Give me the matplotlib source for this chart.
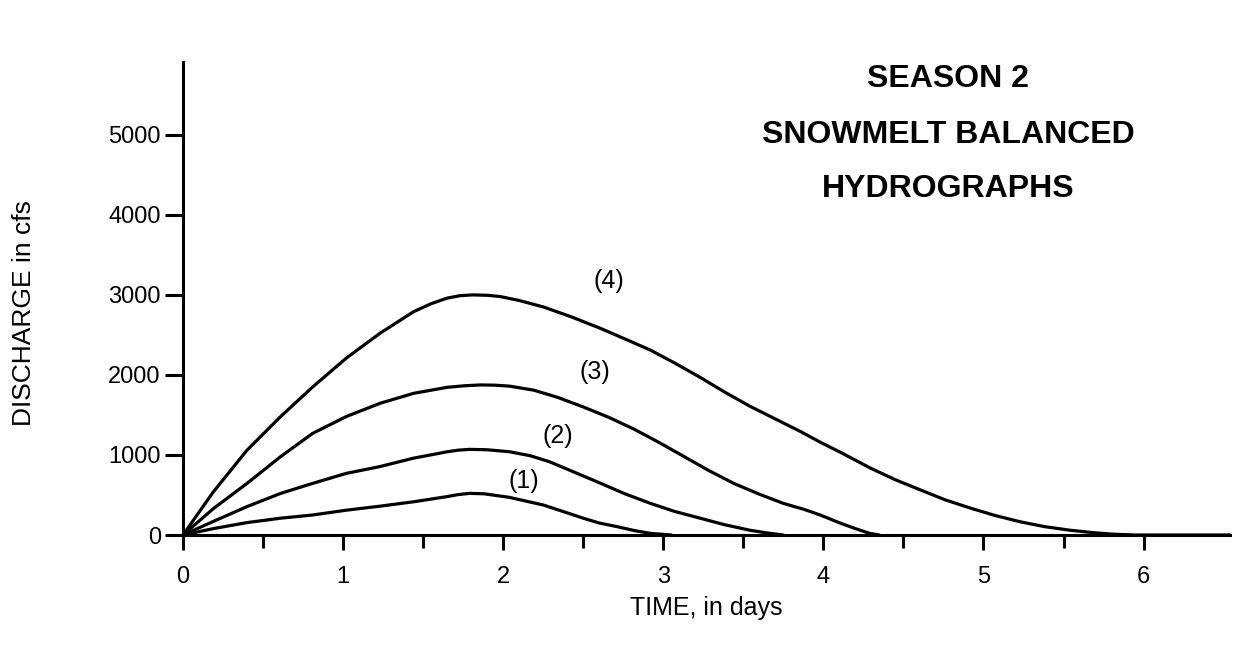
import matplotlib
matplotlib.use("Agg")
import matplotlib.pyplot as plt
from matplotlib.ticker import FixedLocator

plt.rcParams['font.family'] = ['Liberation Sans', 'DejaVu Sans']

# Data (time in days, discharge in cfs)
t4 = [0, 0.19, 0.40, 0.61, 0.81, 1.02, 1.23, 1.44, 1.55, 1.65, 1.73, 1.81, 1.90,
      1.98, 2.10, 2.25, 2.42, 2.61, 2.76, 2.92, 3.07, 3.23, 3.38, 3.54, 3.70, 3.86,
      3.98, 4.11, 4.29, 4.45, 4.61, 4.76, 4.92, 5.07, 5.23, 5.38, 5.54, 5.68, 5.81,
      5.95, 6.54]
q4 = [0, 540, 1060, 1480, 1850, 2210, 2520, 2790, 2890, 2960, 2990, 3000, 2995,
      2980, 2930, 2850, 2730, 2580, 2450, 2310, 2150, 1970, 1790, 1610, 1450, 1290,
      1160, 1030, 840, 690, 560, 440, 335, 245, 165, 105, 60, 30, 10,
      0, 0]

t3 = [0, 0.19, 0.40, 0.61, 0.81, 1.02, 1.23, 1.44, 1.65, 1.76, 1.86, 1.95, 2.04,
      2.19, 2.34, 2.50, 2.66, 2.82, 2.97, 3.13, 3.28, 3.44, 3.60, 3.75, 3.88, 3.98,
      4.11, 4.20, 4.29, 4.35]
q3 = [0, 330, 645, 980, 1270, 1480, 1645, 1770, 1845, 1865, 1875, 1872, 1860,
      1810, 1720, 1600, 1470, 1320, 1160, 980, 810, 645, 510, 395, 320, 250,
      145, 80, 20, 0]

t2 = [0, 0.19, 0.40, 0.61, 0.81, 1.02, 1.23, 1.44, 1.65, 1.72, 1.79, 1.90, 2.04,
      2.17, 2.29, 2.45, 2.61, 2.76, 2.92, 3.07, 3.23, 3.38, 3.54, 3.65, 3.75]
q2 = [0, 170, 355, 520, 645, 770, 855, 960, 1040, 1060, 1070, 1065, 1040,
      990, 915, 780, 645, 515, 395, 295, 210, 130, 60, 25, 0]

t1 = [0, 0.19, 0.40, 0.61, 0.81, 1.02, 1.23, 1.44, 1.65, 1.72, 1.79, 1.88, 2.04,
      2.15, 2.25, 2.38, 2.50, 2.60, 2.71, 2.82, 2.92, 3.05]
q1 = [0, 80, 155, 210, 250, 310, 360, 415, 480, 505, 520, 515, 470,
      420, 375, 290, 210, 150, 105, 55, 20, 0]

curve_labels = ['(1)', '(2)', '(3)', '(4)']
label_x = [2.13, 2.34, 2.575, 2.66]
label_y = [675, 1240, 2035, 3175]

x_ticks = [0, 1, 2, 3, 4, 5, 6]
x_minor = [0.5, 1.5, 2.5, 3.5, 4.5, 5.5]
y_ticks = [0, 1000, 2000, 3000, 4000, 5000]
title_lines = ['SEASON 2', 'SNOWMELT BALANCED', 'HYDROGRAPHS']

fig = plt.figure(figsize=(12.36, 6.46), dpi=100)
ax = fig.add_axes([183 / 1236, 111 / 646, 1047 / 1236, 473 / 646])

lw = 2.3
for t, q in [(t4, q4), (t3, q3), (t2, q2), (t1, q1)]:
    ax.plot(t, q, color='black', lw=lw, solid_capstyle='round',
            solid_joinstyle='round', clip_on=False)

ax.set_xlim(0, 6.54)
ax.set_ylim(0, 5910)

for s in ['top', 'right']:
    ax.spines[s].set_visible(False)
for s in ['left', 'bottom']:
    ax.spines[s].set_linewidth(2.2)

ax.set_xticks(x_ticks)
ax.set_xticklabels([str(v) for v in x_ticks])
ax.xaxis.set_minor_locator(FixedLocator(x_minor))
ax.set_yticks(y_ticks)
ax.set_yticklabels([str(v) for v in y_ticks])

ax.tick_params(axis='x', which='major', direction='out', length=11, width=2.2,
               labelsize=17, pad=11)
ax.tick_params(axis='x', which='minor', direction='out', length=9, width=2.2)
ax.tick_params(axis='y', which='major', direction='out', length=13, width=2.2,
               labelsize=17, pad=3)

ax.set_xlabel('TIME, in days', fontsize=18, labelpad=6)
ax.set_ylabel('DISCHARGE in cfs', fontsize=19, labelpad=52)
ax.yaxis.label.set_y(0.47)

for lab, x, y in zip(curve_labels, label_x, label_y):
    ax.text(x, y, lab, fontsize=18, ha='center', va='center')

title_y = [5600, 4900, 4225]
for line, y in zip(title_lines, title_y):
    ax.text(4.78, y, line, fontsize=23, fontweight='bold', ha='center', va='baseline')

fig.savefig('out.png', dpi=100)
